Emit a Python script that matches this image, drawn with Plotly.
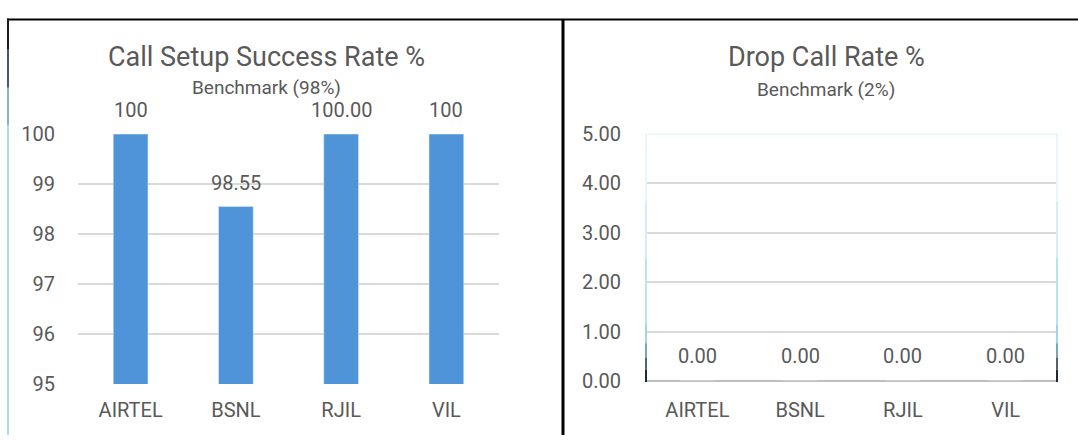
import plotly.graph_objects as go

categories = ["AIRTEL", "BSNL", "RJIL", "VIL"]
cssr_values = [100, 98.55, 100, 100]
cssr_labels = ["100", "98.55", "100.00", "100"]
dcr_values = [0, 0, 0, 0]
dcr_labels = ["0.00", "0.00", "0.00", "0.00"]
cssr_ticks = [95, 96, 97, 98, 99, 100]
dcr_ticks = [0, 1, 2, 3, 4, 5]
dcr_ticklabels = ["0.00", "1.00", "2.00", "3.00", "4.00", "5.00"]

W, H = 1078, 447
TXT = "#595959"
FONT = "Roboto"
BAR = "#4f94d8"
GRID = "#d9d9d9"
TS = 20

def px(x):
    return x / W

def py(y):
    return 1 - y / H

fig = go.Figure()
fig.add_trace(go.Bar(x=categories, y=cssr_values, marker_color=BAR, width=0.33,
                     base=0, xaxis="x", yaxis="y", showlegend=False, hoverinfo="skip"))
fig.add_trace(go.Bar(x=categories, y=dcr_values, marker_color=BAR, width=0.33,
                     xaxis="x2", yaxis="y2", showlegend=False, hoverinfo="skip"))

annotations = []
for c, v, t in zip(categories, cssr_values, cssr_labels):
    annotations.append(dict(x=c, y=v, xref="x", yref="y", text=t, showarrow=False,
                            yshift=24, font=dict(size=20, color=TXT, family=FONT)))
for c, v, t in zip(categories, dcr_values, dcr_labels):
    annotations.append(dict(x=c, y=v, xref="x2", yref="y2", text=t, showarrow=False,
                            yshift=25, font=dict(size=20, color=TXT, family=FONT)))

def title(x, y, text, size):
    return dict(x=px(x), y=py(y), xref="paper", yref="paper", text=text, showarrow=False,
                xanchor="center", yanchor="middle", font=dict(size=size, color=TXT, family=FONT))

annotations += [
    title(266, 48, "Call Setup Success Rate %", 27),
    title(266, 80, "Benchmark (98%)", 19),
    title(826, 48, "Drop Call Rate %", 27),
    title(826, 82, "Benchmark (2%)", 19),
]

shapes = []
# outer frame
shapes.append(dict(type="line", xref="paper", yref="paper", x0=px(7), x1=1, y0=py(8), y1=py(8),
                   line=dict(color="black", width=2)))
# left border: dark at top to light blue lower
segs = [(7, 40, "#1a1a1a"), (40, 80, "#4a5a62"), (80, 120, "#7fb6cc"), (120, 447, "#a6dcf0")]
for a, b, col in segs:
    shapes.append(dict(type="line", xref="paper", yref="paper", x0=px(8), x1=px(8),
                       y0=py(a), y1=py(b), line=dict(color=col, width=2)))
# divider
shapes.append(dict(type="line", xref="paper", yref="paper", x0=px(563), x1=px(563),
                   y0=py(8), y1=0, line=dict(color="black", width=3)))
# right plot frame (faint blue with dark bottom)
shapes.append(dict(type="line", xref="paper", yref="paper", x0=px(646), x1=px(1057),
                   y0=py(129), y1=py(129), line=dict(color="#eef8fc", width=2)))
rsegs = [(129, 200, "#eaf6fb"), (200, 260, "#d3eef8"), (260, 330, "#b8e3f4"),
         (330, 350, "#9fd6ee"), (350, 365, "#7aa6b8"), (365, 378, "#4a6470"), (378, 391, "#1f2a30")]
for xx in (646, 1057):
    for a, b, col in rsegs:
        shapes.append(dict(type="line", xref="paper", yref="paper", x0=px(xx), x1=px(xx),
                           y0=py(a), y1=py(b), line=dict(color=col, width=2)))

fig.update_layout(
    width=W, height=H, margin=dict(l=0, r=0, t=0, b=0),
    paper_bgcolor="white", plot_bgcolor="white",
    bargap=0.67,
    font=dict(family=FONT, color=TXT, size=TS),
    xaxis=dict(domain=[px(78), px(499)], anchor="y", showgrid=False, showline=False,
               ticks="outside", ticklen=8, tickcolor="rgba(0,0,0,0)",
               tickfont=dict(size=TS, color=TXT, family=FONT), fixedrange=True),
    yaxis=dict(domain=[py(393), py(129)], anchor="x", range=[95, 100], tickvals=cssr_ticks,
               showgrid=True, gridcolor=GRID, gridwidth=1.5, zeroline=False, showline=False,
               ticks="outside", ticklen=18, tickcolor="rgba(0,0,0,0)",
               tickfont=dict(size=TS, color=TXT, family=FONT), fixedrange=True),
    xaxis2=dict(domain=[px(646), px(1057)], anchor="y2", showgrid=False, showline=False,
                ticks="outside", ticklen=11, tickcolor="rgba(0,0,0,0)",
                tickfont=dict(size=TS, color=TXT, family=FONT), fixedrange=True),
    yaxis2=dict(domain=[py(390), py(129)], anchor="x2", range=[0, 5], tickvals=dcr_ticks,
                ticktext=dcr_ticklabels,
                showgrid=True, gridcolor=GRID, gridwidth=1.5, zeroline=True, zerolinecolor="#bfbfbf",
                zerolinewidth=2, showline=False,
                ticks="outside", ticklen=20, tickcolor="rgba(0,0,0,0)",
                tickfont=dict(size=TS, color=TXT, family=FONT), fixedrange=True),
    annotations=annotations, shapes=shapes,
)
fig.update_traces(cliponaxis=False)

post = ("document.documentElement.style.overflow='hidden';"
        "document.body.style.margin='0';document.body.style.overflow='hidden';"
        "var d=document.getElementById('{plot_id}');"
        "d.style.position='fixed';d.style.top='0px';d.style.left='0px';")

fig.write_html("out.html", config={"displayModeBar": False}, post_script=post)
